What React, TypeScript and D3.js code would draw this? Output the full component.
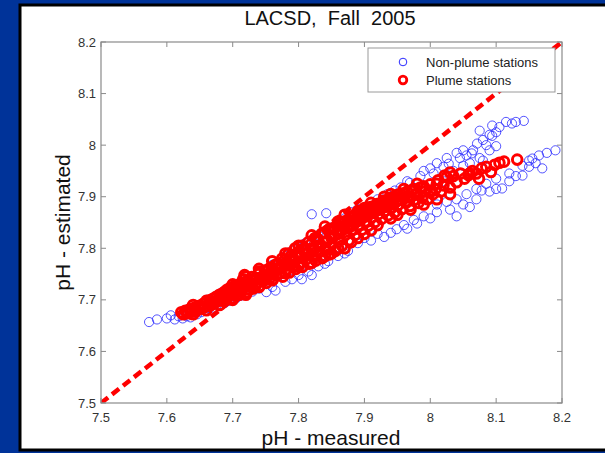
import React from 'react';
import * as d3 from 'd3';

// pH values (measured, estimated)
const plumePoints: [number, number][] = [
  [7.622, 7.676], [7.625, 7.672], [7.628, 7.679], [7.632, 7.674], [7.635, 7.682], [7.638, 7.677],
  [7.642, 7.685], [7.645, 7.679], [7.648, 7.688], [7.651, 7.683], [7.655, 7.692], [7.657, 7.686],
  [7.66, 7.695], [7.662, 7.688], [7.665, 7.699], [7.667, 7.69], [7.67, 7.702], [7.672, 7.694],
  [7.675, 7.706], [7.677, 7.697], [7.68, 7.71], [7.682, 7.7], [7.684, 7.712], [7.686, 7.704],
  [7.688, 7.716], [7.69, 7.702], [7.692, 7.72], [7.694, 7.708], [7.697, 7.724], [7.699, 7.712],
  [7.701, 7.703], [7.703, 7.727], [7.705, 7.716], [7.708, 7.722], [7.71, 7.71], [7.712, 7.732],
  [7.714, 7.719], [7.716, 7.74], [7.718, 7.748], [7.72, 7.726], [7.722, 7.715], [7.724, 7.737],
  [7.727, 7.73], [7.729, 7.744], [7.731, 7.722], [7.734, 7.738], [7.736, 7.731], [7.739, 7.75],
  [7.741, 7.727], [7.744, 7.744], [7.746, 7.736], [7.749, 7.757], [7.751, 7.733], [7.754, 7.749],
  [7.756, 7.742], [7.759, 7.763], [7.761, 7.74], [7.764, 7.755], [7.766, 7.748], [7.769, 7.77],
  [7.771, 7.751], [7.774, 7.762], [7.776, 7.745], [7.779, 7.778], [7.781, 7.759], [7.784, 7.77],
  [7.786, 7.753], [7.789, 7.786], [7.791, 7.764], [7.794, 7.777], [7.796, 7.76], [7.799, 7.792],
  [7.801, 7.771], [7.804, 7.784], [7.806, 7.764], [7.809, 7.8], [7.811, 7.778], [7.814, 7.791],
  [7.816, 7.77], [7.819, 7.808], [7.821, 7.785], [7.824, 7.798], [7.826, 7.776], [7.829, 7.818],
  [7.831, 7.792], [7.834, 7.806], [7.836, 7.781], [7.839, 7.83], [7.841, 7.8], [7.844, 7.815],
  [7.846, 7.788], [7.849, 7.838], [7.851, 7.808], [7.854, 7.824], [7.856, 7.795], [7.859, 7.845],
  [7.861, 7.817], [7.864, 7.833], [7.866, 7.805], [7.869, 7.852], [7.871, 7.826], [7.874, 7.842],
  [7.876, 7.815], [7.879, 7.86], [7.881, 7.836], [7.884, 7.85], [7.886, 7.826], [7.889, 7.868],
  [7.891, 7.845], [7.894, 7.858], [7.896, 7.836], [7.899, 7.874], [7.901, 7.852], [7.904, 7.866],
  [7.906, 7.844], [7.909, 7.88], [7.911, 7.86], [7.914, 7.872], [7.916, 7.851], [7.919, 7.886],
  [7.921, 7.866], [7.924, 7.878], [7.926, 7.857], [7.929, 7.892], [7.931, 7.872], [7.934, 7.884],
  [7.936, 7.864], [7.939, 7.898], [7.941, 7.878], [7.944, 7.89], [7.946, 7.87], [7.949, 7.903],
  [7.951, 7.884], [7.954, 7.895], [7.957, 7.876], [7.96, 7.906], [7.963, 7.888], [7.966, 7.899],
  [7.969, 7.882], [7.972, 7.912], [7.975, 7.893], [7.978, 7.904], [7.982, 7.888], [7.985, 7.918],
  [7.988, 7.898], [7.992, 7.91], [7.996, 7.895], [8.0, 7.924], [8.004, 7.905], [8.008, 7.915],
  [8.012, 7.932], [8.016, 7.91], [8.02, 7.922], [8.022, 7.941], [8.025, 7.938], [8.03, 7.918],
  [8.03, 7.947], [8.035, 7.94], [8.04, 7.928], [8.046, 7.945], [8.052, 7.935], [8.058, 7.942],
  [8.06, 7.945], [8.064, 7.95], [8.07, 7.945], [8.074, 7.935], [8.078, 7.955], [8.085, 7.958],
  [8.092, 7.948], [8.098, 7.962], [8.105, 7.966], [8.112, 7.968], [8.132, 7.972],
  // inner part of the band
  [7.63, 7.678], [7.64, 7.69], [7.65, 7.684], [7.66, 7.698], [7.67, 7.695], [7.68, 7.706],
  [7.69, 7.71], [7.695, 7.716], [7.7, 7.72], [7.705, 7.708], [7.71, 7.728], [7.715, 7.725],
  [7.72, 7.735], [7.725, 7.72], [7.73, 7.74], [7.735, 7.728], [7.74, 7.755], [7.745, 7.74],
  [7.75, 7.746], [7.755, 7.76], [7.76, 7.75], [7.765, 7.768], [7.77, 7.76], [7.775, 7.78],
  [7.78, 7.766], [7.785, 7.79], [7.79, 7.775], [7.795, 7.8], [7.8, 7.785], [7.805, 7.805],
  [7.81, 7.79], [7.815, 7.812], [7.82, 7.8], [7.825, 7.82], [7.83, 7.805], [7.835, 7.828],
  [7.84, 7.812], [7.845, 7.835], [7.85, 7.82], [7.855, 7.84], [7.86, 7.828], [7.865, 7.848],
  [7.87, 7.838], [7.875, 7.855], [7.88, 7.845], [7.885, 7.862], [7.89, 7.855], [7.895, 7.87],
  [7.9, 7.862], [7.905, 7.876], [7.91, 7.868], [7.915, 7.882], [7.92, 7.875], [7.925, 7.888],
  [7.93, 7.88], [7.935, 7.894], [7.94, 7.885], [7.945, 7.9], [7.95, 7.892], [7.955, 7.906],
  [7.96, 7.898], [7.965, 7.91], [7.97, 7.9], [7.975, 7.915], [7.98, 7.905], [7.99, 7.92],
  [8.0, 7.912], [8.01, 7.925],
  // lower and upper rim of the band
  [7.8, 7.765], [7.82, 7.772], [7.84, 7.785], [7.85, 7.79], [7.87, 7.8], [7.89, 7.82],
  [7.92, 7.845], [7.95, 7.865], [7.78, 7.79], [7.8, 7.805], [7.82, 7.825], [7.84, 7.842],
  [7.86, 7.852], [7.88, 7.862], [7.9, 7.878], [7.93, 7.9], [7.96, 7.915],
  [7.64, 7.672], [7.66, 7.68], [7.68, 7.69], [7.7, 7.7], [7.72, 7.71], [7.74, 7.725],
  [7.76, 7.738], [7.78, 7.752], [7.86, 7.8], [7.88, 7.812], [7.9, 7.828], [7.91, 7.835],
  [7.94, 7.858], [7.97, 7.875], [7.99, 7.885], [8.01, 7.895], [8.03, 7.905],
  [7.7, 7.73], [7.72, 7.745], [7.74, 7.76], [7.76, 7.775], [7.87, 7.865], [7.89, 7.872],
  [7.91, 7.888], [7.94, 7.905], [7.98, 7.925],
];

const nonPlumePoints: [number, number][] = [
  // left tail and lower edge
  [7.573, 7.657], [7.585, 7.662], [7.6, 7.664], [7.606, 7.67], [7.612, 7.662], [7.618, 7.668],
  [7.624, 7.664], [7.63, 7.668], [7.636, 7.666], [7.64, 7.672], [7.646, 7.672], [7.652, 7.676],
  [7.658, 7.68], [7.664, 7.684], [7.67, 7.685], [7.676, 7.69], [7.682, 7.692], [7.688, 7.694],
  [7.694, 7.698], [7.7, 7.7], [7.706, 7.704], [7.712, 7.708], [7.72, 7.712], [7.73, 7.716],
  [7.74, 7.722], [7.751, 7.715], [7.76, 7.725], [7.765, 7.718], [7.78, 7.735], [7.79, 7.74],
  [7.8, 7.748], [7.805, 7.74], [7.815, 7.755], [7.82, 7.748], [7.83, 7.765], [7.845, 7.775],
  [7.86, 7.785], [7.875, 7.795], [7.89, 7.81], [7.9, 7.82], [7.91, 7.815], [7.93, 7.822],
  [7.949, 7.837], [7.96, 7.845], [7.975, 7.855], [7.99, 7.862], [8.0, 7.858], [8.01, 7.87],
  [8.03, 7.875], [8.04, 7.862], [8.05, 7.885], [8.06, 7.88], [8.07, 7.895], [8.078, 7.912],
  [8.09, 7.91], [8.1, 7.915], [8.109, 7.916], [8.12, 7.93], [8.13, 7.94], [8.14, 7.941],
  [8.15, 7.958], [8.155, 7.974], [8.16, 7.965], [8.17, 7.955], [8.177, 7.985], [8.19, 7.99],
  [8.165, 7.98], [8.15, 7.97], [8.14, 7.96], [8.12, 7.945], [8.1, 7.935], [8.085, 7.925],
  [8.07, 7.915], [8.055, 7.905], [8.04, 7.895], [8.025, 7.89], [8.01, 7.885],
  [7.94, 7.83], [7.965, 7.838], [7.98, 7.848], [7.92, 7.828], [7.87, 7.79], [7.84, 7.77],
  // upper edge of the band
  [7.66, 7.7], [7.68, 7.712], [7.7, 7.725], [7.72, 7.738], [7.74, 7.752], [7.76, 7.768],
  [7.78, 7.785], [7.79, 7.795], [7.8, 7.8], [7.81, 7.81], [7.82, 7.866], [7.842, 7.868],
  [7.83, 7.825], [7.85, 7.84], [7.87, 7.858], [7.88, 7.87], [7.89, 7.876],
  // upper branch
  [7.92, 7.895], [7.935, 7.905], [7.946, 7.912], [7.955, 7.918], [7.965, 7.93], [7.969, 7.927],
  [7.985, 7.94], [7.99, 7.95], [8.0, 7.955], [8.005, 7.945], [8.01, 7.965], [8.02, 7.958],
  [8.025, 7.975], [8.028, 7.964], [8.04, 7.985], [8.045, 7.975], [8.05, 7.99], [8.055, 7.98],
  [8.063, 7.984], [8.065, 7.99], [8.071, 8.003], [8.075, 8.028], [8.08, 8.01], [8.085, 8.0],
  [8.09, 8.02], [8.094, 8.038], [8.094, 8.018], [8.1, 8.025], [8.105, 8.035], [8.115, 8.045],
  [8.124, 8.042], [8.13, 8.045], [8.142, 8.047], [8.02, 7.93], [8.035, 7.95], [8.05, 7.96],
  [8.06, 7.965], [8.075, 7.975], [8.09, 7.99], [8.1, 7.998], [8.08, 7.97],
];

const ticks = [7.5, 7.6, 7.7, 7.8, 7.9, 8, 8.1, 8.2];
const oneToOne: [number, number][] = [[7.5, 7.5], [8.2, 8.2]];
const legendItems = ['Non-plume stations', 'Plume stations'];

const W = 605;
const H = 453;
const plot = { left: 101, right: 562, top: 42, bottom: 403 };
const font = '"Liberation Sans", Arial, sans-serif';
const axisColor = '#8a8a8a';

export default function App() {
  const x = d3.scaleLinear().domain([7.5, 8.2]).range([plot.left, plot.right]);
  const y = d3.scaleLinear().domain([7.5, 8.2]).range([plot.bottom, plot.top]);
  const line = d3.line<[number, number]>().x(d => x(d[0])).y(d => y(d[1]));
  const tickLen = 5;

  return (
    <svg width={W} height={H} style={{ position: 'absolute', left: 0, top: 0 }} fontFamily={font}>
      <rect x={0} y={0} width={W} height={H} fill="#003399" />
      <rect x={20} y={5} width={W} height={445} fill="#fff" stroke="#000" strokeWidth={3} />

      <text x={330} y={25} textAnchor="middle" fontSize={20} fill="#111" style={{ whiteSpace: 'pre' }}>LACSD,  Fall  2005</text>

      {/* points */}
      <g clipPath="url(#clip)">
        {nonPlumePoints.map((d, i) => (
          <circle key={'b' + i} cx={x(d[0])} cy={y(d[1])} r={4.6} fill="none" stroke="#2a2aff" strokeWidth={1} strokeOpacity={0.8} />
        ))}
        {plumePoints.map((d, i) => (
          <circle key={'r' + i} cx={x(d[0])} cy={y(d[1])} r={4.8} fill="none" stroke="#ff0000" strokeWidth={3} />
        ))}
        <path d={line(oneToOne) || ''} fill="none" stroke="#ff0000" strokeWidth={4.5} strokeDasharray="9,5" />
      </g>
      <defs>
        <clipPath id="clip">
          <rect x={plot.left} y={plot.top - 2} width={plot.right - plot.left + 2} height={plot.bottom - plot.top + 2} />
        </clipPath>
      </defs>

      {/* axes box with inward ticks */}
      <rect x={plot.left} y={plot.top} width={plot.right - plot.left} height={plot.bottom - plot.top} fill="none" stroke={axisColor} strokeWidth={1.2} />
      {ticks.map(t => (
        <g key={'t' + t}>
          <line x1={x(t)} x2={x(t)} y1={plot.bottom} y2={plot.bottom - tickLen} stroke={axisColor} />
          <line x1={x(t)} x2={x(t)} y1={plot.top} y2={plot.top + tickLen} stroke={axisColor} />
          <line x1={plot.left} x2={plot.left + tickLen} y1={y(t)} y2={y(t)} stroke={axisColor} />
          <line x1={plot.right} x2={plot.right - tickLen} y1={y(t)} y2={y(t)} stroke={axisColor} />
          <text x={x(t)} y={422} textAnchor="middle" fontSize={13} fill="#333">{String(t)}</text>
          <text x={96} y={y(t) + 4.5} textAnchor="end" fontSize={13} fill="#333">{String(t)}</text>
        </g>
      ))}

      {/* legend */}
      <rect x={368} y={48} width={187} height={44} fill="#fff" stroke="#9a9a9a" strokeWidth={1} />
      <circle cx={403} cy={62} r={3.8} fill="none" stroke="#2a2aff" strokeWidth={1} />
      <circle cx={403} cy={80} r={3.8} fill="none" stroke="#ff0000" strokeWidth={2.8} />
      <text x={426} y={66.5} fontSize={13} fill="#222">{legendItems[0]}</text>
      <text x={426} y={84.5} fontSize={13} fill="#222">{legendItems[1]}</text>

      <text x={331} y={445} textAnchor="middle" fontSize={21} fill="#111">pH - measured</text>
      <text transform={`translate(70,${(plot.top + plot.bottom) / 2}) rotate(-90)`} textAnchor="middle" fontSize={21} fill="#111">pH - estimated</text>
    </svg>
  );
}
